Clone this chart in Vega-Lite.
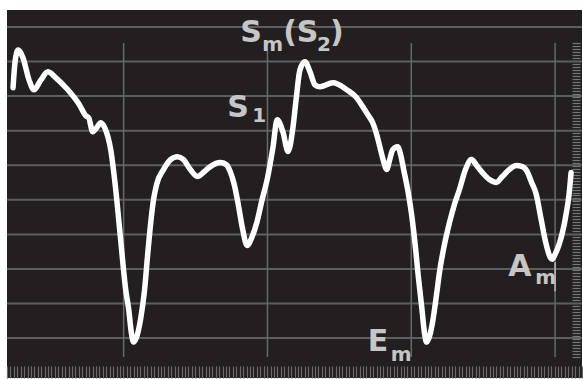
{
  "$schema": "https://vega.github.io/schema/vega-lite/v6.json",
  "width": 583,
  "height": 379,
  "autosize": {"type": "fit", "contains": "padding"},
  "padding": {"left": 6, "top": 10, "right": 0, "bottom": 0},
  "background": "#ffffff",
  "config": {"view": {"fill": "#231f20", "stroke": null}},
  "datasets": {
    "curve": [
      {"t":0.231,"v":7.240},{"t":0.245,"v":7.990},{"t":0.266,"v":8.336},{"t":0.300,"v":8.105},{"t":0.342,"v":7.470},
      {"t":0.376,"v":7.182},{"t":0.425,"v":7.470},{"t":0.473,"v":7.701},{"t":0.529,"v":7.528},{"t":0.612,"v":7.182},
      {"t":0.688,"v":6.778},{"t":0.737,"v":6.432},{"t":0.757,"v":6.374},{"t":0.785,"v":5.970},{"t":0.813,"v":6.086},
      {"t":0.841,"v":6.230},{"t":0.868,"v":6.086},{"t":0.910,"v":5.451},{"t":0.945,"v":4.298},{"t":0.979,"v":2.855},
      {"t":1.014,"v":1.413},{"t":1.035,"v":0.836},{"t":1.055,"v":0.115},{"t":1.069,"v":-0.115},{"t":1.090,"v":0.029},
      {"t":1.118,"v":0.548},{"t":1.146,"v":1.413},{"t":1.166,"v":2.365},{"t":1.187,"v":3.288},{"t":1.208,"v":4.009},
      {"t":1.229,"v":4.442},{"t":1.277,"v":4.874},{"t":1.326,"v":5.163},{"t":1.374,"v":5.249},{"t":1.416,"v":5.163},
      {"t":1.464,"v":4.874},{"t":1.513,"v":4.673},{"t":1.554,"v":4.788},{"t":1.603,"v":4.961},{"t":1.672,"v":5.076},
      {"t":1.714,"v":5.019},{"t":1.741,"v":4.817},{"t":1.769,"v":4.442},{"t":1.797,"v":3.865},{"t":1.825,"v":3.202},
      {"t":1.859,"v":2.682},{"t":1.894,"v":2.942},{"t":1.928,"v":3.375},{"t":1.963,"v":4.009},{"t":1.998,"v":4.586},
      {"t":2.039,"v":5.538},{"t":2.067,"v":6.317},{"t":2.109,"v":5.942},{"t":2.143,"v":5.394},{"t":2.178,"v":6.115},
      {"t":2.199,"v":6.893},{"t":2.226,"v":7.759},{"t":2.261,"v":7.990},{"t":2.296,"v":7.701},{"t":2.330,"v":7.326},
      {"t":2.365,"v":7.268},{"t":2.455,"v":7.384},{"t":2.552,"v":7.182},{"t":2.614,"v":6.980},{"t":2.663,"v":6.692},
      {"t":2.698,"v":6.461},{"t":2.732,"v":6.230},{"t":2.760,"v":5.884},{"t":2.781,"v":5.538},{"t":2.808,"v":5.105},
      {"t":2.829,"v":4.874},{"t":2.850,"v":5.163},{"t":2.871,"v":5.451},{"t":2.905,"v":5.538},{"t":2.926,"v":5.307},
      {"t":2.947,"v":4.874},{"t":2.975,"v":4.298},{"t":3.002,"v":3.577},{"t":3.023,"v":2.855},{"t":3.051,"v":1.702},
      {"t":3.072,"v":0.923},{"t":3.093,"v":0.115},{"t":3.106,"v":-0.115},{"t":3.127,"v":0.058},{"t":3.148,"v":0.461},
      {"t":3.176,"v":1.269},{"t":3.196,"v":1.904},{"t":3.231,"v":2.711},{"t":3.266,"v":3.346},{"t":3.300,"v":3.865},
      {"t":3.335,"v":4.298},{"t":3.377,"v":4.874},{"t":3.418,"v":5.163},{"t":3.460,"v":4.961},{"t":3.494,"v":4.788},
      {"t":3.543,"v":4.586},{"t":3.591,"v":4.500},{"t":3.633,"v":4.673},{"t":3.681,"v":4.874},{"t":3.730,"v":4.990},
      {"t":3.772,"v":4.961},{"t":3.806,"v":4.817},{"t":3.834,"v":4.528},{"t":3.869,"v":4.153},{"t":3.903,"v":3.432},
      {"t":3.938,"v":2.711},{"t":3.966,"v":2.336},{"t":3.979,"v":2.279},{"t":4.000,"v":2.423},{"t":4.028,"v":2.711},
      {"t":4.056,"v":3.144},{"t":4.076,"v":3.577},{"t":4.097,"v":4.153},{"t":4.111,"v":4.788}
    ],
    "big": [
      {"x":1.811,"y":8.566,"s":"S"},
      {"x":2.109,"y":8.566,"s":"(S"},
      {"x":2.434,"y":8.566,"s":")"},
      {"x":1.721,"y":6.403,"s":"S"},
      {"x":2.698,"y":-0.375,"s":"E"},
      {"x":3.675,"y":1.788,"s":"A"}
    ],
    "small": [
      {"x":1.963,"y":8.307,"s":"m"},
      {"x":2.344,"y":8.307,"s":"2"},
      {"x":1.894,"y":6.259,"s":"1"},
      {"x":2.857,"y":-0.663,"s":"m"},
      {"x":3.862,"y":1.558,"s":"m"}
    ],
    "hgrid": [{"g":0},{"g":1},{"g":2},{"g":3},{"g":4},{"g":5},{"g":6},{"g":7},{"g":8},{"g":9}],
    "vgrid": [{"g":1},{"g":2},{"g":3},{"g":4}],
    "cursor": [{"x":4.0,"y":2.192,"y2":1.356}],
    "stripx": [{"k":0},{"k":168}],
    "stripy": [{"k":0},{"k":123}]
  },
  "layer": [
    {
      "encoding": {},
      "layer": [
        {
          "data": {"name": "hgrid"},
          "mark": {"type": "rule", "color": "#5e5e5e", "strokeWidth": 2},
          "encoding": {
            "y": {"field": "g", "type": "quantitative", "scale": {"domain": [-1.154, 9.49], "nice": false, "zero": false}, "axis": null}
          }
        },
        {
          "data": {"name": "vgrid"},
          "mark": {"type": "rule", "color": "#686868", "strokeWidth": 1.5},
          "encoding": {
            "x": {"field": "g", "type": "quantitative", "scale": {"domain": [0.189, 4.187], "nice": false, "zero": false}, "axis": null},
            "y": {"datum": 8.538, "type": "quantitative"},
            "y2": {"datum": -0.548}
          }
        },
        {
          "data": {"name": "cursor"},
          "mark": {"type": "rule", "color": "#bdbdbd", "strokeWidth": 1.5},
          "encoding": {
            "x": {"field": "x", "type": "quantitative"},
            "y": {"field": "y", "type": "quantitative"},
            "y2": {"field": "y2"}
          }
        },
        {
          "data": {"name": "curve"},
          "mark": {"type": "line", "color": "#ffffff", "strokeWidth": 5.5, "interpolate": "monotone", "strokeCap": "round", "strokeJoin": "round"},
          "encoding": {
            "x": {"field": "t", "type": "quantitative"},
            "y": {"field": "v", "type": "quantitative"}
          }
        },
        {
          "data": {"name": "big"},
          "mark": {"type": "text", "align": "left", "baseline": "alphabetic", "font": "DejaVu Sans", "fontWeight": "bold", "fontSize": 30, "color": "#c6c6c6"},
          "encoding": {
            "x": {"field": "x", "type": "quantitative"},
            "y": {"field": "y", "type": "quantitative"},
            "text": {"field": "s"}
          }
        },
        {
          "data": {"name": "small"},
          "mark": {"type": "text", "align": "left", "baseline": "alphabetic", "font": "DejaVu Sans", "fontWeight": "bold", "fontSize": 20, "color": "#c6c6c6"},
          "encoding": {
            "x": {"field": "x", "type": "quantitative"},
            "y": {"field": "y", "type": "quantitative"},
            "text": {"field": "s"}
          }
        }
      ]
    },
    {
      "data": {"name": "stripx"},
      "mark": {"type": "rule", "opacity": 0},
      "encoding": {
        "x": {
          "field": "k", "type": "quantitative",
          "scale": {"domain": [0, 168], "nice": false, "zero": false},
          "axis": {"orient": "bottom", "offset": -12, "tickSize": 12, "tickCount": 168, "tickWidth": 1.2, "tickColor": "#6a6a6a", "labels": false, "domain": false, "grid": false, "title": null}
        }
      }
    },
    {
      "data": {"name": "stripy"},
      "mark": {"type": "rule", "opacity": 0},
      "encoding": {
        "y": {
          "field": "k", "type": "quantitative",
          "scale": {"domain": [0, 123], "nice": false, "zero": false},
          "axis": {"orient": "right", "offset": -10, "tickSize": 8, "tickCount": 123, "tickWidth": 1.2, "tickColor": "#777777",
            "tickOpacity": {"condition": {"test": "datum.value < 7 || datum.value > 112", "value": 0}, "value": 1},
            "labels": false, "domain": false, "grid": false, "title": null}
        }
      }
    }
  ],
  "resolve": {"scale": {"x": "independent", "y": "independent"}}
}
